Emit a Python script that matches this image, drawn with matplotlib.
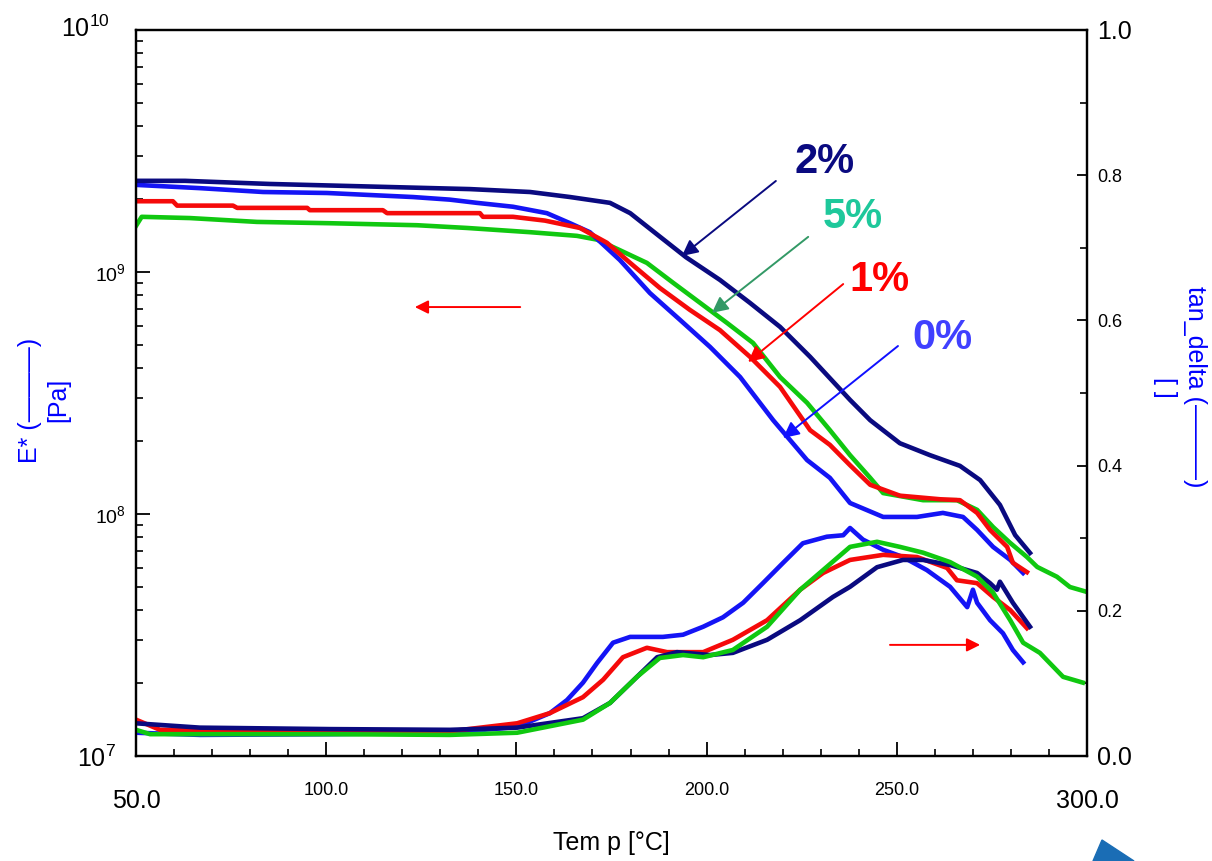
import numpy as np
import matplotlib
matplotlib.use("Agg")
import matplotlib.pyplot as plt
from matplotlib.ticker import LogLocator, MultipleLocator, NullFormatter
from matplotlib.patches import Polygon
from matplotlib.transforms import ScaledTranslation

plt.rcParams['font.family'] = ['Liberation Sans', 'DejaVu Sans']
plt.rcParams['mathtext.fontset'] = 'custom'
plt.rcParams['mathtext.rm'] = 'Liberation Sans'
plt.rcParams['mathtext.default'] = 'regular'

# E* (Pa) curves
t_e_0 = [50, 66.8, 83.4, 100.2, 122.8, 132.5, 139.6, 149.1, 158.0, 164.1, 169.3, 177.2, 185.1, 193.0,
         200.9, 208.8, 217.5, 226.4, 232.4, 237.7, 246.4, 255.3, 262.1, 267.4, 271.1, 275.3, 279.8, 283.2]
e_0 = [2.29e9, 2.22e9, 2.14e9, 2.12e9, 2.04e9, 1.99e9, 1.93e9, 1.86e9, 1.75e9, 1.59e9, 1.46e9, 1.12e9,
       8.18e8, 6.34e8, 4.90e8, 3.68e8, 2.44e8, 1.67e8, 1.41e8, 1.11e8, 9.72e7, 9.72e7, 1.01e8, 9.72e7,
       8.59e7, 7.31e7, 6.46e7, 5.70e7]

t_e_1 = [50, 59.7, 60.8, 75.5, 76.6, 95.0, 95.7, 114.9, 116.0, 140.4, 141.2, 149.1, 157.5, 166.7, 173.8,
         179.9, 187.7, 195.6, 203.5, 211.4, 219.3, 227.2, 232.4, 237.7, 243.0, 250.8, 261.4, 266.6, 271.1,
         274.5, 279.0, 280.5, 284.2]
e_1 = [1.96e9, 1.96e9, 1.88e9, 1.88e9, 1.84e9, 1.84e9, 1.80e9, 1.80e9, 1.75e9, 1.75e9, 1.69e9, 1.69e9,
       1.63e9, 1.52e9, 1.32e9, 1.09e9, 8.59e8, 6.97e8, 5.75e8, 4.46e8, 3.35e8, 2.22e8, 1.93e8, 1.59e8,
       1.32e8, 1.19e8, 1.15e8, 1.14e8, 1.01e8, 8.59e7, 7.31e7, 6.28e7, 5.75e7]

t_e_2 = [50, 62.9, 85.2, 108.9, 137.8, 153.6, 164.1, 174.6, 179.9, 187.7, 194.6, 203.5, 211.4, 219.3,
         227.2, 237.7, 243.0, 250.8, 258.7, 266.6, 271.9, 277.1, 281.1, 285.0]
e_2 = [2.38e9, 2.38e9, 2.31e9, 2.26e9, 2.20e9, 2.14e9, 2.04e9, 1.93e9, 1.75e9, 1.40e9, 1.15e9, 9.27e8,
       7.45e8, 5.93e8, 4.46e8, 2.96e8, 2.44e8, 1.96e8, 1.75e8, 1.58e8, 1.38e8, 1.09e8, 8.18e7, 6.90e7]

t_e_5 = [50, 51.5, 64.2, 81.8, 101.0, 123.9, 137.0, 153.6, 165.9, 171.2, 177.2, 184.3, 191.2, 198.3, 205.4,
         212.2, 219.3, 226.4, 232.4, 237.7, 243.0, 246.4, 256.9, 265.8, 271.1, 275.3, 279.8, 284.2, 286.9,
         292.1, 295.5, 300.0]
e_5 = [1.55e9, 1.69e9, 1.67e9, 1.61e9, 1.59e9, 1.56e9, 1.52e9, 1.46e9, 1.41e9, 1.36e9, 1.23e9, 1.09e9, 9.02e8,
       7.45e8, 6.15e8, 5.09e8, 3.68e8, 2.88e8, 2.22e8, 1.75e8, 1.41e8, 1.22e8, 1.14e8, 1.14e8, 1.04e8,
       8.83e7, 7.59e7, 6.64e7, 6.04e7, 5.50e7, 4.99e7, 4.76e7]

# tan_delta curves
t_d_0 = [50, 66.8, 101, 132.5, 150.2, 158.8, 163.3, 167.5, 171.2, 175.4, 179.9, 188.5, 193.8, 199.1,
         204.3, 209.6, 214.8, 220.1, 225.3, 231.6, 235.9, 237.7, 241.1, 246.4, 251.6, 257.9, 264.0, 268.5,
         270.0, 271.1, 274.5, 277.9, 280.5, 283.2]
d_0 = [0.032, 0.029, 0.030, 0.032, 0.040, 0.059, 0.077, 0.101, 0.128, 0.156, 0.164, 0.164, 0.167, 0.178,
       0.191, 0.211, 0.238, 0.266, 0.293, 0.302, 0.304, 0.314, 0.298, 0.284, 0.274, 0.256, 0.233, 0.205,
       0.229, 0.211, 0.187, 0.169, 0.146, 0.129]

t_d_1 = [50, 56.3, 101, 132.5, 150.2, 158.8, 167.5, 172.8, 178.0, 184.3, 189.6, 199.1, 206.9, 215.9,
         224.6, 230.6, 237.7, 246.4, 255.3, 263.2, 265.8, 271.1, 275.3, 279.8, 284.2]
d_1 = [0.050, 0.036, 0.034, 0.034, 0.045, 0.059, 0.081, 0.105, 0.136, 0.149, 0.143, 0.143, 0.160, 0.187,
       0.229, 0.252, 0.270, 0.277, 0.274, 0.259, 0.242, 0.238, 0.219, 0.201, 0.176]

t_d_2 = [50, 66.8, 101, 132.5, 150.2, 167.5, 174.6, 181.7, 187.0, 192.2, 200.9, 206.9, 215.9, 224.6,
         233.2, 237.7, 244.8, 251.6, 256.9, 264.0, 271.1, 274.5, 276.3, 277.1, 280.5, 285.0]
d_2 = [0.045, 0.039, 0.037, 0.036, 0.039, 0.052, 0.073, 0.109, 0.136, 0.143, 0.139, 0.142, 0.160, 0.187,
       0.219, 0.233, 0.260, 0.270, 0.270, 0.263, 0.252, 0.238, 0.229, 0.240, 0.211, 0.178]

t_d_5 = [50, 53.7, 101, 132.5, 150.2, 167.5, 174.6, 181.7, 187.7, 193.8, 199.1, 206.9, 215.9, 224.6,
         230.6, 237.7, 244.8, 250.8, 256.9, 264.0, 271.1, 275.3, 279.8, 283.2, 287.6, 293.7, 298.9]
d_5 = [0.036, 0.030, 0.030, 0.029, 0.032, 0.050, 0.073, 0.109, 0.135, 0.139, 0.136, 0.146, 0.178, 0.229,
       0.256, 0.288, 0.295, 0.288, 0.280, 0.267, 0.247, 0.225, 0.187, 0.156, 0.142, 0.109, 0.101]

x_ticks = [50, 100, 150, 200, 250, 300]
x_labels = ['50.0', '100.0', '150.0', '200.0', '250.0', '300.0']
e_ticks = [1e7, 1e8, 1e9, 1e10]
e_labels = [r'$10^{7}$', r'$10^{8}$', r'$10^{9}$', r'$10^{10}$']
d_ticks = [0.0, 0.2, 0.4, 0.6, 0.8, 1.0]
d_labels = ['0.0', '0.2', '0.4', '0.6', '0.8', '1.0']

c_navy = '#0a0a80'
c_blue = '#1414f5'
c_red = '#f50a0a'
c_green = '#10c810'
lw = 3.3

fig = plt.figure(figsize=(12.12, 8.61), dpi=100)
ax = fig.add_axes([0.1122, 0.1220, 0.7847, 0.8432])
ax2 = ax.twinx()

for t, e, c in [(t_e_5, e_5, c_green), (t_e_0, e_0, c_blue), (t_e_1, e_1, c_red), (t_e_2, e_2, c_navy)]:
    ax.plot(t, e, color=c, lw=lw, solid_joinstyle='round')
for t, d, c in [(t_d_0, d_0, c_blue), (t_d_1, d_1, c_red), (t_d_2, d_2, c_navy), (t_d_5, d_5, c_green)]:
    ax2.plot(t, d, color=c, lw=lw, solid_joinstyle='round')

ax.set_yscale('log')
ax.set_xlim(50, 300)
ax.set_ylim(1e7, 1e10)
ax2.set_ylim(0, 1.0)

ax.set_xticks(x_ticks)
ax.set_xticklabels(x_labels)
ax.xaxis.set_minor_locator(MultipleLocator(10))
ax.set_yticks(e_ticks)
ax.set_yticklabels(e_labels)
ax.yaxis.set_minor_locator(LogLocator(base=10, subs=np.arange(2, 10)))
ax.yaxis.set_minor_formatter(NullFormatter())
ax2.set_yticks(d_ticks)
ax2.set_yticklabels(d_labels)
ax2.yaxis.set_minor_locator(MultipleLocator(0.1))

ax.tick_params(axis='x', which='major', direction='in', length=10, width=1.3, pad=19, labelsize=13)
ax.tick_params(axis='x', which='minor', direction='in', length=5, width=1.2)
ax.tick_params(axis='y', which='major', direction='in', length=10, width=1.3, pad=7, labelsize=14)
ax.tick_params(axis='y', which='minor', direction='in', length=5, width=1.2)
ax2.tick_params(axis='y', which='major', direction='in', length=7, width=1.3, pad=7, labelsize=13)
ax2.tick_params(axis='y', which='minor', direction='in', length=5, width=1.2)


def nudge(lab, dx, dy):
    # shift a tick label by dx, dy pixels
    lab.set_transform(lab.get_transform() + ScaledTranslation(dx / 100, dy / 100, fig.dpi_scale_trans))


# end labels are drawn bigger (and a bit off) in the original
xl = ax.get_xticklabels()
yl = ax.get_yticklabels()
rl = ax2.get_yticklabels()
for lab in [xl[0], xl[-1], yl[0], yl[-1], rl[0], rl[-1]]:
    lab.set_fontsize(18)
nudge(xl[0], 0, -7)
nudge(xl[-1], 0, -7)
nudge(yl[-1], -16, 4)
nudge(yl[0], -10, 0)

for a in (ax, ax2):
    for s in a.spines.values():
        s.set_linewidth(1.6)

ax.set_xlabel('Tem p [°C]', fontsize=18)
ax.xaxis.set_label_coords(0.5, -0.104)
ax.text(-0.0967, 0.49, 'E* (———)\n[Pa]', transform=ax.transAxes, rotation=90,
        ha='center', va='center', fontsize=18, color='#0000ff', linespacing=1.25)
ax2.text(1.098, 0.508, 'tan_delta (———)\n[ ]', transform=ax2.transAxes, rotation=270,
         ha='center', va='center', fontsize=18, color='#0000ff', linespacing=1.3)

# curve labels with arrows
notes = [('2%', c_navy, c_navy, (230.9, 10**9.455), (218.2, 10**9.376), (193.5, 10**9.066)),
         ('5%', '#1ec89b', '#339966', (238.5, 10**9.227), (226.7, 10**9.145), (201.4, 10**8.831)),
         ('1%', '#ff0000', '#ff0000', (245.3, 10**8.967), (235.9, 10**8.950), (210.9, 10**8.628)),
         ('0%', '#4040ff', '#1010ff', (261.9, 10**8.727), (250.3, 10**8.694), (220.1, 10**8.314))]
for txt, tc, ac, tpos, a0, a1 in notes:
    ax.text(tpos[0], tpos[1], txt, color=tc, fontsize=30, fontweight='bold', ha='center', va='center')
    ax.annotate('', xy=a1, xytext=a0,
                arrowprops=dict(arrowstyle='-|>', color=ac, lw=1.4, mutation_scale=24, shrinkA=0, shrinkB=0))

# axis direction arrows
ax.annotate('', xy=(123.3, 10**8.855), xytext=(151.0, 10**8.855),
            arrowprops=dict(arrowstyle='-|>', color='#ff0000', lw=1.4, mutation_scale=20, shrinkA=0, shrinkB=0))
ax2.annotate('', xy=(271.9, 0.153), xytext=(248.2, 0.153),
             arrowprops=dict(arrowstyle='-|>', color='#ff0000', lw=1.4, mutation_scale=20, shrinkA=0, shrinkB=0))

# cropped logo corner at bottom right
W, H = 1212, 861
logo = Polygon([(1102 / W, 1 - 840 / H), (1093 / W, 0), (1134 / W, 0)], closed=True,
               transform=fig.transFigure, color='#1a6db5', clip_on=False)
fig.patches.append(logo)

fig.savefig('out.png', dpi=100)
